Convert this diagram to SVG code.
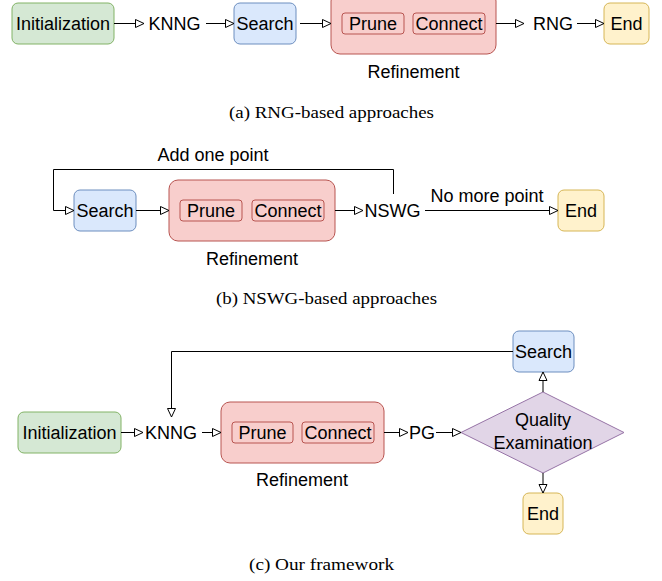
<svg xmlns="http://www.w3.org/2000/svg" width="662" height="581" viewBox="0 0 662 581">
<style>
text{font-family:"Liberation Sans",Arial,sans-serif;font-size:18px;fill:#000;text-anchor:middle}
.cap{font-family:"Liberation Serif","Times New Roman",serif;font-size:16px;text-anchor:start}
.green{fill:#d5e8d4;stroke:#82b366;stroke-width:1}
.blue{fill:#dae8fc;stroke:#6c8ebf;stroke-width:1}
.red{fill:#f8cecc;stroke:#b85450;stroke-width:1}
.yellow{fill:#fff2cc;stroke:#d6b656;stroke-width:1}
.purple{fill:#e1d5e7;stroke:#9673a6;stroke-width:1}
.edge{fill:none;stroke:#000;stroke-width:1;marker-end:url(#arr)}
.line{fill:none;stroke:#000;stroke-width:1}
</style>
<defs>
<marker id="arr" markerUnits="userSpaceOnUse" markerWidth="12" markerHeight="12" viewBox="0 0 12 12" refX="10" refY="6" orient="auto">
<path d="M1.5,2 L10,6 L1.5,10 Z" fill="#fff" stroke="#000" stroke-width="1"/>
</marker>
</defs>

<!-- (a) -->
<g id="a-init"><rect class="green" x="12" y="3" width="102" height="41" rx="6"/><text x="63" y="30">Initialization</text></g>
<g id="a-knng"><text x="174.5" y="30">KNNG</text></g>
<g id="a-search"><rect class="blue" x="234" y="3" width="62" height="41" rx="6"/><text x="265" y="30">Search</text></g>
<g id="a-refine"><rect class="red" x="331" y="-8" width="165" height="62" rx="9"/>
<rect class="red" x="342" y="13" width="62" height="21" rx="3"/><text x="373" y="30">Prune</text>
<rect class="red" x="413" y="13" width="72" height="21" rx="3"/><text x="449" y="30">Connect</text>
<text x="413.5" y="78">Refinement</text></g>
<g id="a-rng"><text x="553" y="30">RNG</text></g>
<g id="a-end"><rect class="yellow" x="604" y="3" width="45" height="41" rx="6"/><text x="626.5" y="30">End</text></g>
<text class="cap" x="229" y="118" textLength="205" lengthAdjust="spacingAndGlyphs">(a)  RNG-based approaches</text>

<!-- (b) -->
<g id="b-search"><rect class="blue" x="74" y="190" width="62" height="41" rx="6"/><text x="105" y="217">Search</text></g>
<g id="b-refine"><rect class="red" x="169" y="180" width="166" height="61" rx="9"/>
<rect class="red" x="180" y="200" width="62" height="21" rx="3"/><text x="211" y="217">Prune</text>
<rect class="red" x="252" y="200" width="72" height="21" rx="3"/><text x="288" y="217">Connect</text>
<text x="252" y="265">Refinement</text></g>
<g id="b-nswg"><text x="392.5" y="217">NSWG</text></g>
<g id="b-end"><rect class="yellow" x="558" y="190" width="46" height="41" rx="6"/><text x="581" y="217">End</text></g>
<text class="cap" x="216" y="304" textLength="221" lengthAdjust="spacingAndGlyphs">(b)  NSWG-based approaches</text>

<!-- (c) -->
<g id="c-init"><rect class="green" x="18" y="412" width="103" height="41" rx="6"/><text x="69.5" y="439">Initialization</text></g>
<g id="c-knng"><text x="171" y="439">KNNG</text></g>
<g id="c-refine"><rect class="red" x="221" y="402" width="163" height="61" rx="9"/>
<rect class="red" x="232" y="422" width="61" height="21" rx="3"/><text x="262.5" y="439">Prune</text>
<rect class="red" x="302" y="422" width="72" height="21" rx="3"/><text x="338" y="439">Connect</text>
<text x="302" y="486">Refinement</text></g>
<g id="c-pg"><text x="422" y="439">PG</text></g>
<g id="c-quality"><path class="purple" d="M543,392 L624,432.5 L543,473 L461,432.5 Z"/><text x="543" y="426">Quality</text><text x="543" y="449">Examination</text></g>
<g id="c-search"><rect class="blue" x="513" y="331" width="61" height="41" rx="6"/><text x="543.5" y="358">Search</text></g>
<g id="c-end"><rect class="yellow" x="523" y="493" width="40" height="41" rx="6"/><text x="543" y="520">End</text></g>
<text class="cap" x="249" y="570" textLength="145" lengthAdjust="spacingAndGlyphs">(c)  Our framework</text>

<g id="connectors">
<path class="edge" d="M114,23.5 H144"/>
<path class="edge" d="M206,23.5 H234"/>
<path class="edge" d="M300,23.5 H331"/>
<path class="edge" d="M496,23.5 H524"/>
<path class="edge" d="M577,23.5 H604"/>

<path class="edge" d="M393.5,194 V169.5 H53.5 V210.5 H74"/>
<text x="213" y="161">Add one point</text>
<path class="edge" d="M136,210.5 H169"/>
<path class="edge" d="M335,210.5 H363"/>
<path class="edge" d="M425,210.5 H558"/>
<text x="487" y="202">No more point</text>

<path class="edge" d="M121,432.5 H143"/>
<path class="edge" d="M202,432.5 H221"/>
<path class="edge" d="M384,432.5 H408"/>
<path class="edge" d="M436,432.5 H461"/>
<path class="edge" d="M543,392 V372"/>
<path class="edge" d="M543,473 V493"/>
<path class="edge" d="M513,351.5 H171.5 V417"/>
</g>
</svg>
